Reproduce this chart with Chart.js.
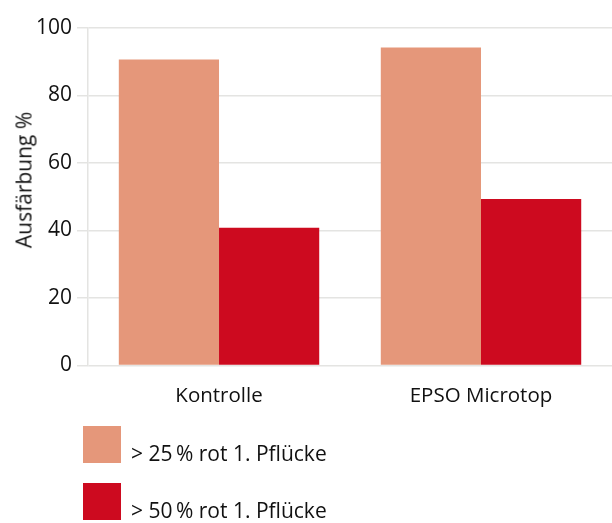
<!DOCTYPE html>
<html><head><meta charset="utf-8">
<script src="https://cdn.jsdelivr.net/npm/chart.js@4"></script>
<style>
html,body{margin:0;padding:0;background:#fff;}
#wrap{position:relative;width:612px;height:523px;}
#c{position:absolute;left:0;top:0;}
.lg{position:absolute;left:83px;width:38px;height:37px;}
.lt{position:absolute;left:131px;font-family:"Open Sans",sans-serif;font-size:21px;color:#111;line-height:21px;white-space:nowrap;}
#yt{position:absolute;left:24px;top:180px;font-family:"Open Sans",sans-serif;font-size:21px;line-height:21px;color:#111;white-space:nowrap;transform:translate(-50%,-50%) rotate(-90deg);}
</style></head>
<body>
<div id="wrap">
<canvas id="c" width="612" height="523"></canvas>
<div id="yt"></div>
<div class="lg" id="b1" style="top:426px;"></div>
<div class="lt" id="t1" style="top:443px;"></div>
<div class="lg" id="b2" style="top:483px;"></div>
<div class="lt" id="t2" style="top:500px;"></div>
</div>
<script>
const categories = ["Kontrolle", "EPSO Microtop"];
const seriesNames = ["> 25\u2009% rot 1. Pflücke", "> 50\u2009% rot 1. Pflücke"];
const series25 = [90.7, 94.2];
const series50 = [40.8, 49.3];
const colors = ["#E5977A", "#CD0A1F"];
const yTicks = [0, 20, 40, 60, 80, 100];
const yTitle = "Ausfärbung %";

document.getElementById('b1').style.background = colors[0];
document.getElementById('b2').style.background = colors[1];
document.getElementById('t1').textContent = seriesNames[0];
document.getElementById('t2').textContent = seriesNames[1];
document.getElementById('yt').textContent = yTitle;

const FONT = "'Open Sans', sans-serif";
new Chart(document.getElementById('c'), {
  type: 'bar',
  data: {
    labels: categories,
    datasets: [
      {label: seriesNames[0], data: series25, backgroundColor: colors[0], borderWidth: 0},
      {label: seriesNames[1], data: series50, backgroundColor: colors[1], borderWidth: 0}
    ]
  },
  options: {
    responsive: false,
    animation: false,
    devicePixelRatio: 1,
    layout: {padding: {top: 28, right: 0, left: 31, bottom: 105}},
    plugins: {legend: {display: false}, tooltip: {enabled: false}},
    datasets: {bar: {categoryPercentage: 0.765, barPercentage: 1}},
    scales: {
      x: {
        grid: {display: false},
        border: {display: false},
        ticks: {color: '#111', font: {family: FONT, size: 20.5}, padding: 10}
      },
      y: {
        min: 0, max: 100,
        afterBuildTicks: (s) => { s.ticks = yTicks.map(v => ({value: v})); },
        grid: {color: '#e4e4e2', lineWidth: 1.5, tickLength: 11, drawTicks: true},
        border: {display: true, color: '#e4e4e2', width: 1.5},
        ticks: {color: '#111', font: {family: FONT, size: 21}, padding: 5}
      }
    }
  }
});
</script>
</body></html>
